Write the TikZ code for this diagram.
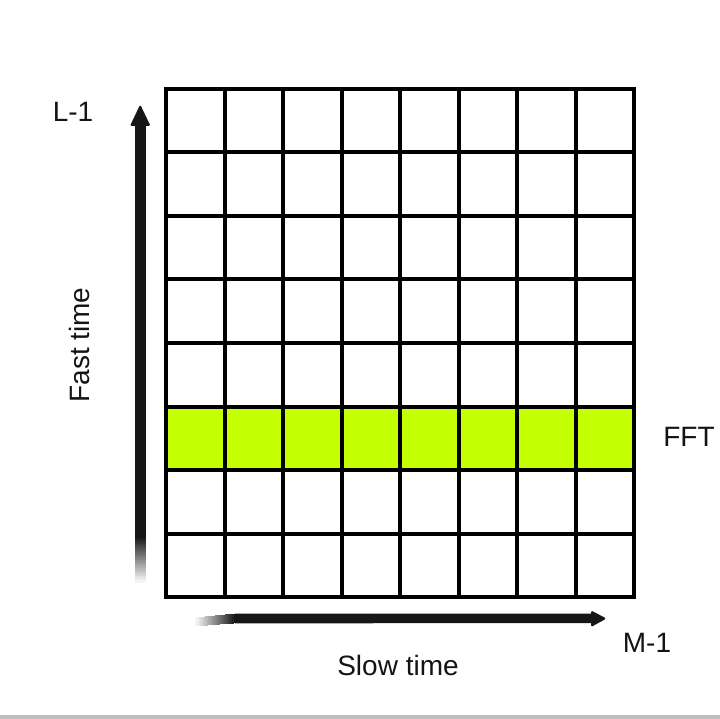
\documentclass[tikz,border=0pt]{standalone}
\usepackage{fontspec}
\setmainfont{Liberation Sans}
\definecolor{fftgreen}{RGB}{196,255,2}
\definecolor{arrowc}{RGB}{22,22,22}
\definecolor{txtc}{RGB}{20,20,20}
\definecolor{barc}{RGB}{190,190,190}
\begin{document}
\begin{tikzpicture}[x=1pt,y=-1pt,
  lbl/.style={font=\fontsize{28}{32}\selectfont, inner sep=0pt, text=txtc},
  gridline/.style={line width=4pt, draw=black},
  arrowbody/.style={fill=arrowc, draw=none}]
\useasboundingbox (0,0) rectangle (720,719);
\fill[white] (0,0) rectangle (720,719);
\fill[barc] (0,714.5) rectangle (720,719);
% highlighted FFT row
\fill[fftgreen] (166,406.5) rectangle (634,470);
% grid
\foreach \i in {1,...,7} {
  \draw[gridline] ({166+\i*58.5},89) -- ({166+\i*58.5},597);
  \draw[gridline] (166,{89+\i*63.5}) -- (634,{89+\i*63.5});
}
\draw[gridline, line join=miter] (166,89) rectangle (634,597);
% vertical arrow (fast time): solid body, head, and fading tail
\fill[arrowbody] (134.5,123) rectangle (145.5,537);
\foreach \k in {0,...,22} {
  \pgfmathsetmacro{\pct}{100-\k*100/23}
  \fill[arrowc!\pct!white] (134.5,{536+\k*2}) rectangle (145.5,{538.6+\k*2});
}
\fill[arrowbody, rounded corners=1.5pt] (140.2,104.5) -- (150.5,126) -- (130,126) -- cycle;
% horizontal arrow (slow time): solid body, head, and fading tail
\fill[arrowbody] (235,613.6) -- (593,613.6) -- (593,623) -- (235,623.4) -- cycle;
\foreach \k in {0,...,19} {
  \pgfmathsetmacro{\pct}{100-\k*100/20}
  \fill[arrowc!\pct!white] ({236-\k*2},{613.6+\k*0.2}) rectangle ({233.4-\k*2},{623.4+\k*0.15});
}
\fill[arrowbody, rounded corners=1.5pt] (591,610.5) -- (606.5,618.5) -- (591,627) -- cycle;
% labels
\node[lbl] (lone) at (73,112) {L-1};
\node[lbl, rotate=90] (fast) at (79,345) {Fast time};
\node[lbl] (fft) at (689,437) {FFT};
\node[lbl] (mone) at (647,643) {M-1};
\node[lbl] (slow) at (398,665) {Slow time};
\end{tikzpicture}
\end{document}
